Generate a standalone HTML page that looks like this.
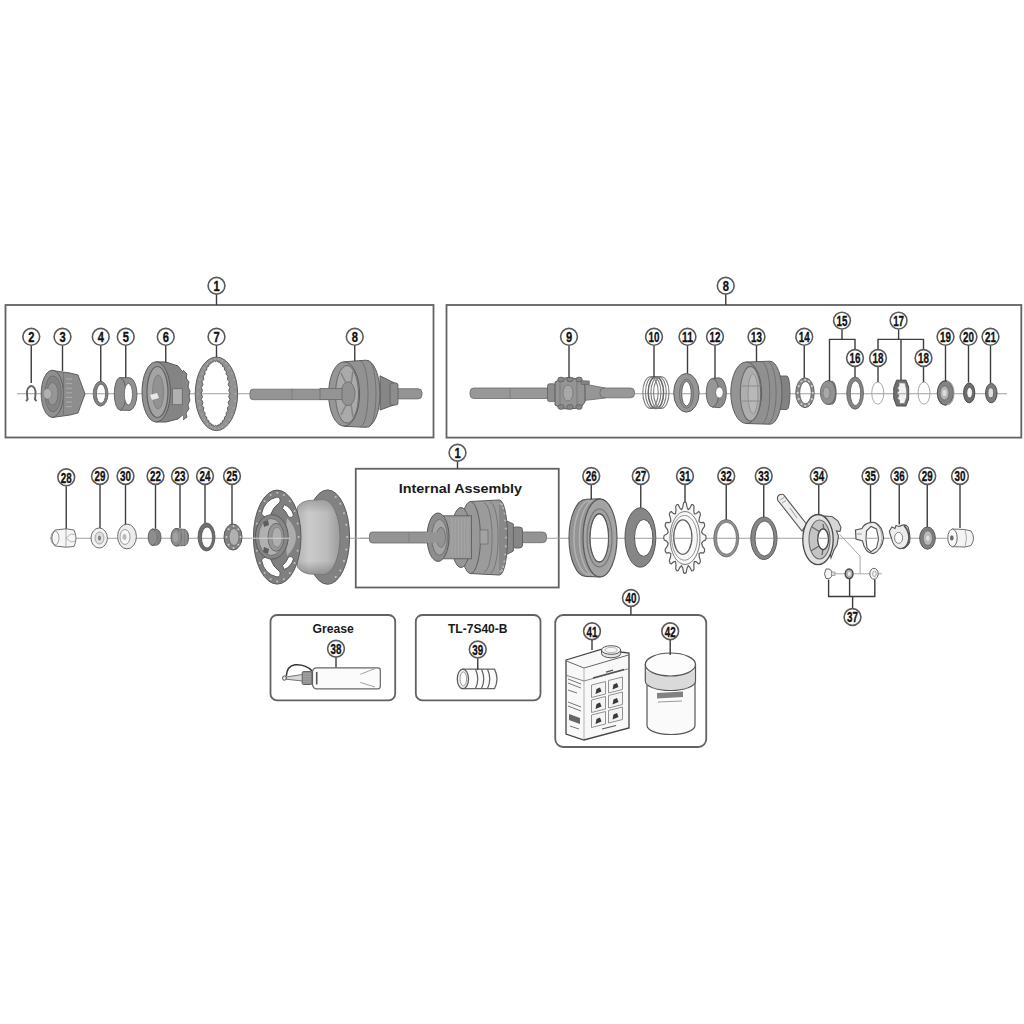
<!DOCTYPE html><html><head><meta charset="utf-8"><style>html,body{margin:0;padding:0;background:#fff;}svg{display:block;font-family:"Liberation Sans",sans-serif;}</style></head><body>
<svg width="1024" height="1024" viewBox="0 0 1024 1024">
<defs><linearGradient id="shell" x1="0" y1="0" x2="0" y2="1"><stop offset="0" stop-color="#8a8a8a"/><stop offset="0.3" stop-color="#bdbdbd"/><stop offset="0.6" stop-color="#c2c2c2"/><stop offset="1" stop-color="#7a7a7a"/></linearGradient><linearGradient id="shellh" x1="0" y1="0" x2="1" y2="0"><stop offset="0" stop-color="#b0b0b0"/><stop offset="0.3" stop-color="#cbcbcb"/><stop offset="0.7" stop-color="#bcbcbc"/><stop offset="1" stop-color="#9c9c9c"/></linearGradient><linearGradient id="shellv" x1="0" y1="0" x2="0" y2="1"><stop offset="0" stop-color="#808080" stop-opacity="0.55"/><stop offset="0.18" stop-color="#808080" stop-opacity="0"/><stop offset="0.82" stop-color="#707070" stop-opacity="0"/><stop offset="1" stop-color="#707070" stop-opacity="0.6"/></linearGradient></defs>
<rect width="1024" height="1024" fill="#fff"/>
<rect x="5.5" y="305" width="428" height="132.5" fill="none" stroke="#626262" stroke-width="1.8"/>
<rect x="446.5" y="305" width="574.8" height="132.6" fill="none" stroke="#626262" stroke-width="1.8"/>
<rect x="355.75" y="468.75" width="203" height="118.75" fill="none" stroke="#626262" stroke-width="1.8"/>
<rect x="270.5" y="615" width="124.7" height="85.3" rx="6.5" fill="none" stroke="#626262" stroke-width="1.8"/>
<rect x="415.8" y="615" width="124.7" height="85.3" rx="6.5" fill="none" stroke="#626262" stroke-width="1.8"/>
<rect x="555.25" y="615" width="151" height="132" rx="8" fill="none" stroke="#626262" stroke-width="1.8"/>
<line x1="17" y1="393.75" x2="250" y2="393.75" stroke="#a0a0a0" stroke-width="1"/>
<path d="M26,401 L27.5,399.5 L27,394 C26.5,389 29,386 31.3,386 C33.6,386 36,389 35.5,394 L35,399.5 L36.5,401" fill="none" stroke="#606060" stroke-width="1.9" />
<path d="M52,370.5 L70,373 L78,375 L85,394 L78,413 L70,415 L52,417.5 Z" fill="#8d8d8d" stroke="#5e5e5e" stroke-width="1" />
<ellipse cx="52.3" cy="393.75" rx="11.1" ry="23.5" fill="#909090" stroke="#5e5e5e" stroke-width="1" />
<ellipse cx="53" cy="393.75" rx="8.2" ry="18" fill="#848484" stroke="#6a6a6a" stroke-width="0.8" />
<ellipse cx="52.5" cy="393.75" rx="5.5" ry="11.5" fill="#969696" stroke="#6a6a6a" stroke-width="0.8" />
<ellipse cx="47.5" cy="393.75" rx="4.3" ry="5.2" fill="#b0b0b0" stroke="#777" stroke-width="0.6" />
<line x1="66" y1="379.0" x2="72" y2="379.0" stroke="#a8a8a8" stroke-width="1.2"/>
<line x1="66" y1="383.6" x2="72" y2="383.6" stroke="#a8a8a8" stroke-width="1.2"/>
<line x1="66" y1="388.2" x2="72" y2="388.2" stroke="#a8a8a8" stroke-width="1.2"/>
<line x1="66" y1="392.8" x2="72" y2="392.8" stroke="#a8a8a8" stroke-width="1.2"/>
<line x1="66" y1="397.4" x2="72" y2="397.4" stroke="#a8a8a8" stroke-width="1.2"/>
<line x1="66" y1="402.0" x2="72" y2="402.0" stroke="#a8a8a8" stroke-width="1.2"/>
<line x1="66" y1="406.6" x2="72" y2="406.6" stroke="#a8a8a8" stroke-width="1.2"/>
<line x1="63.5" y1="373" x2="63.5" y2="415" stroke="#6e6e6e" stroke-width="0.8"/>
<path d="M93.19999999999999,393.75 A7.4,12.4 0 1 0 108.0,393.75 A7.4,12.4 0 1 0 93.19999999999999,393.75 Z M96.4,393.75 A4.6,9.6 0 1 0 105.6,393.75 A4.6,9.6 0 1 0 96.4,393.75 Z " fill="#828282" stroke="#5e5e5e" stroke-width="0.8" fill-rule="evenodd"/>
<path d="M120,377.6 L130,377.8 A7.8,16.4 0 0 1 130,410.4 L120,410.2 Z" fill="#909090" stroke="#5e5e5e" stroke-width="0.9" />
<ellipse cx="120.1" cy="393.75" rx="5.8" ry="16.3" fill="#8e8e8e" stroke="#5e5e5e" stroke-width="0.9" />
<ellipse cx="128.4" cy="394.2" rx="4.1" ry="10.8" fill="#fff" stroke="#6a6a6a" stroke-width="0.9" />
<path d="M156,361.8 L166,362 L178,366 L186,376 L189,394 L186,412 L178,419 L166,422 L156,422 Z" fill="#848484" stroke="#5a5a5a" stroke-width="1" />
<ellipse cx="156.2" cy="391.9" rx="14.2" ry="30.1" fill="#929292" stroke="#5a5a5a" stroke-width="1" />
<ellipse cx="157.5" cy="392" rx="10.5" ry="25.5" fill="#a4a4a4" stroke="#606060" stroke-width="1.2" />
<ellipse cx="158" cy="392" rx="5.5" ry="17" fill="#929292" stroke="#777" stroke-width="0.7" />
<path d="M150,395 L157,393 L159,398 L152,400 Z" fill="#e8e8e8" stroke="none" stroke-width="1" />
<rect x="172.6" y="388.7" width="9.7" height="16" rx="0" fill="#b0b0b0" stroke="#666" stroke-width="0.8" />
<path d="M183,370 L187,374 L186,378 L189,382 L188,387 L190,391 L189,396 L190,400 L188,405 L189,409 L186,413 L187,417 L183,420" fill="#888888" stroke="#5a5a5a" stroke-width="0.9" />
<path d="M195.20000000000002,393.8 A21.2,36.8 0 1 0 237.6,393.8 A21.2,36.8 0 1 0 195.20000000000002,393.8 Z M230.20,393.50 L228.68,396.44 L229.95,399.56 L228.24,402.21 L229.21,405.42 L227.36,407.69 L228.01,410.87 L226.09,412.69 L226.39,415.73 L224.45,417.03 L224.40,419.83 L222.52,420.58 L222.11,423.04 L220.35,423.19 L219.60,425.24 L218.01,424.80 L216.95,426.36 L215.60,425.35 L214.25,426.36 L213.19,424.80 L211.60,425.24 L210.85,423.19 L209.09,423.04 L208.68,420.58 L206.80,419.83 L206.75,417.03 L204.81,415.73 L205.11,412.69 L203.19,410.87 L203.84,407.69 L201.99,405.42 L202.96,402.21 L201.25,399.56 L202.52,396.44 L201.00,393.50 L202.52,390.56 L201.25,387.44 L202.96,384.79 L201.99,381.58 L203.84,379.31 L203.19,376.13 L205.11,374.31 L204.81,371.27 L206.75,369.97 L206.80,367.17 L208.68,366.42 L209.09,363.96 L210.85,363.81 L211.60,361.76 L213.19,362.20 L214.25,360.64 L215.60,361.65 L216.95,360.64 L218.01,362.20 L219.60,361.76 L220.35,363.81 L222.11,363.96 L222.52,366.42 L224.40,367.17 L224.45,369.97 L226.39,371.27 L226.09,374.31 L228.01,376.13 L227.36,379.31 L229.21,381.58 L228.24,384.79 L229.95,387.44 L228.68,390.56 Z" fill="#929292" stroke="#5e5e5e" stroke-width="1" fill-rule="evenodd"/>
<circle cx="235.4" cy="393.8" r="0.9" fill="#aaaaaa"/>
<circle cx="235.0" cy="401.0" r="0.9" fill="#aaaaaa"/>
<circle cx="233.8" cy="408.0" r="0.9" fill="#aaaaaa"/>
<circle cx="231.8" cy="414.3" r="0.9" fill="#aaaaaa"/>
<circle cx="229.2" cy="419.7" r="0.9" fill="#aaaaaa"/>
<circle cx="226.1" cy="423.9" r="0.9" fill="#aaaaaa"/>
<circle cx="222.5" cy="426.9" r="0.9" fill="#aaaaaa"/>
<circle cx="218.7" cy="428.4" r="0.9" fill="#aaaaaa"/>
<circle cx="214.9" cy="428.4" r="0.9" fill="#aaaaaa"/>
<circle cx="211.1" cy="426.9" r="0.9" fill="#aaaaaa"/>
<circle cx="207.5" cy="423.9" r="0.9" fill="#aaaaaa"/>
<circle cx="204.4" cy="419.7" r="0.9" fill="#aaaaaa"/>
<circle cx="201.8" cy="414.3" r="0.9" fill="#aaaaaa"/>
<circle cx="199.8" cy="408.0" r="0.9" fill="#aaaaaa"/>
<circle cx="198.6" cy="401.0" r="0.9" fill="#aaaaaa"/>
<circle cx="198.2" cy="393.8" r="0.9" fill="#aaaaaa"/>
<circle cx="198.6" cy="386.6" r="0.9" fill="#aaaaaa"/>
<circle cx="199.8" cy="379.6" r="0.9" fill="#aaaaaa"/>
<circle cx="201.8" cy="373.3" r="0.9" fill="#aaaaaa"/>
<circle cx="204.4" cy="367.9" r="0.9" fill="#aaaaaa"/>
<circle cx="207.5" cy="363.7" r="0.9" fill="#aaaaaa"/>
<circle cx="211.1" cy="360.7" r="0.9" fill="#aaaaaa"/>
<circle cx="214.9" cy="359.2" r="0.9" fill="#aaaaaa"/>
<circle cx="218.7" cy="359.2" r="0.9" fill="#aaaaaa"/>
<circle cx="222.5" cy="360.7" r="0.9" fill="#aaaaaa"/>
<circle cx="226.1" cy="363.7" r="0.9" fill="#aaaaaa"/>
<circle cx="229.2" cy="367.9" r="0.9" fill="#aaaaaa"/>
<circle cx="231.8" cy="373.3" r="0.9" fill="#aaaaaa"/>
<circle cx="233.8" cy="379.6" r="0.9" fill="#aaaaaa"/>
<circle cx="235.0" cy="386.6" r="0.9" fill="#aaaaaa"/>
<rect x="250" y="389.2" width="88" height="10.5" rx="3" fill="#949494" stroke="#6a6a6a" stroke-width="0.8" />
<line x1="292" y1="388.5" x2="292" y2="400" stroke="#777" stroke-width="0.7"/>
<rect x="392" y="388.7" width="30" height="10.2" rx="4" fill="#949494" stroke="#6a6a6a" stroke-width="0.8" />
<path d="M380,375.8 L397.3,384.4 L397.3,403.7 L380,410 Z" fill="#868686" stroke="#5e5e5e" stroke-width="1" />
<rect x="390" y="383" width="8" height="22" rx="2" fill="#8d8d8d" stroke="#5e5e5e" stroke-width="0.8" />
<path d="M344,361.8 L366,360.2 A14,33.5 0 0 1 366,427.3 L344,426.3 Z" fill="#929292" stroke="#5e5e5e" stroke-width="1" />
<path d="M360,361 A8,33 0 0 1 360,427 M368,360.6 A8,33.2 0 0 1 368,427" fill="none" stroke="#6e6e6e" stroke-width="0.9" />
<ellipse cx="344.1" cy="394" rx="15.5" ry="32.2" fill="#969696" stroke="#5e5e5e" stroke-width="1" />
<ellipse cx="347" cy="394.3" rx="11.5" ry="28.8" fill="#aaaaaa" stroke="#6a6a6a" stroke-width="1" />
<path d="M341,373 L347,385 M353,371 L351,384 M341,415 L347,403 M353,417 L351,404" fill="none" stroke="#858585" stroke-width="1.6" />
<ellipse cx="348" cy="393.75" rx="7" ry="12" fill="#929292" stroke="#6a6a6a" stroke-width="0.8" />
<rect x="320" y="388.5" width="22" height="11" rx="0" fill="#949494" stroke="#6a6a6a" stroke-width="0.8" />
<line x1="634" y1="393.75" x2="1007" y2="393.75" stroke="#a0a0a0" stroke-width="1"/>
<rect x="470" y="388" width="80" height="10.5" rx="4" fill="#989898" stroke="#6a6a6a" stroke-width="0.8" />
<line x1="510" y1="388" x2="510" y2="398.5" stroke="#777" stroke-width="0.7"/>
<path d="M584,384 L605.5,388 L605.5,398 L584,400.5 Z" fill="#969696" stroke="#6a6a6a" stroke-width="0.8" />
<rect x="600" y="388" width="34.5" height="9.8" rx="4" fill="#989898" stroke="#6a6a6a" stroke-width="0.8" />
<rect x="547.5" y="383.8" width="8" height="17.8" rx="2" fill="#8d8d8d" stroke="#5e5e5e" stroke-width="0.8" />
<path d="M555,382 L562,378.5 L568,377.5 L575,378.5 L582,381 L585,386 L585,402 L582,406 L575,408.5 L568,409 L562,408.5 L555,405 Z" fill="#949494" stroke="#5a5a5a" stroke-width="1" />
<path d="M580.8,380.5 L589.4,381 L589.4,384.4 L581,384.4 Z" fill="#848484" stroke="#5e5e5e" stroke-width="0.6" />
<ellipse cx="561" cy="379.5" rx="3.2" ry="2.4" fill="#868686" stroke="#5a5a5a" stroke-width="0.7" />
<ellipse cx="561" cy="407" rx="3.2" ry="2.4" fill="#868686" stroke="#5a5a5a" stroke-width="0.7" />
<ellipse cx="570" cy="379.5" rx="3.2" ry="2.4" fill="#868686" stroke="#5a5a5a" stroke-width="0.7" />
<ellipse cx="570" cy="407" rx="3.2" ry="2.4" fill="#868686" stroke="#5a5a5a" stroke-width="0.7" />
<ellipse cx="579" cy="379.5" rx="3.2" ry="2.4" fill="#868686" stroke="#5a5a5a" stroke-width="0.7" />
<ellipse cx="579" cy="407" rx="3.2" ry="2.4" fill="#868686" stroke="#5a5a5a" stroke-width="0.7" />
<ellipse cx="568" cy="393" rx="5" ry="8" fill="#a8a8a8" stroke="#707070" stroke-width="0.7" />
<line x1="560" y1="382" x2="560" y2="405" stroke="#707070" stroke-width="0.7"/>
<line x1="577" y1="381" x2="577" y2="406" stroke="#707070" stroke-width="0.7"/>
<ellipse cx="650.5" cy="392.6" rx="7.7" ry="15.9" fill="none" stroke="#7e7e7e" stroke-width="1.1" />
<ellipse cx="653.2" cy="392.6" rx="7.7" ry="15.9" fill="none" stroke="#7e7e7e" stroke-width="1.1" />
<ellipse cx="655.9" cy="392.6" rx="7.7" ry="15.9" fill="none" stroke="#666" stroke-width="1.5" />
<ellipse cx="658.6" cy="392.6" rx="7.7" ry="15.9" fill="none" stroke="#7e7e7e" stroke-width="1.1" />
<ellipse cx="661.3" cy="392.6" rx="7.7" ry="15.9" fill="none" stroke="#7e7e7e" stroke-width="1.1" />
<line x1="650.5" y1="376.7" x2="661.3" y2="376.7" stroke="#777" stroke-width="1"/>
<line x1="650.5" y1="408.5" x2="661.3" y2="408.5" stroke="#777" stroke-width="1"/>
<path d="M673.6999999999999,392.8 A12.7,19.3 0 1 0 699.1,392.8 A12.7,19.3 0 1 0 673.6999999999999,392.8 Z M681.7,393.7 A4.8,12.3 0 1 0 691.3,393.7 A4.8,12.3 0 1 0 681.7,393.7 Z " fill="#969696" stroke="#5e5e5e" stroke-width="1" fill-rule="evenodd"/>
<ellipse cx="686.5" cy="393.7" rx="7" ry="14.5" fill="none" stroke="#707070" stroke-width="1" />
<path d="M712,378.5 L719,377.8 A7.4,14.95 0 0 1 719,407.7 L712,407 Z" fill="#8c8c8c" stroke="#5e5e5e" stroke-width="0.9" />
<ellipse cx="712.5" cy="392.75" rx="6.3" ry="14.3" fill="#969696" stroke="#5e5e5e" stroke-width="0.9" />
<ellipse cx="719.4" cy="392.5" rx="3.8" ry="5.5" fill="#fff" stroke="#6a6a6a" stroke-width="0.8" />
<path d="M776,376 L787,376 A3,16.75 0 0 1 787,409.5 L776,409.5 Z" fill="#828282" stroke="#5e5e5e" stroke-width="0.9" />
<path d="M746.2,362 L770,361.2 A12,31.5 0 0 1 770,424.2 L746.2,423.5 Z" fill="#909090" stroke="#5e5e5e" stroke-width="1" />
<path d="M762,361.5 A9,31.5 0 0 1 762,424 M768,361.3 A9,31.5 0 0 1 768,424" fill="none" stroke="#6e6e6e" stroke-width="0.9" />
<ellipse cx="746.2" cy="392.7" rx="15.4" ry="30.75" fill="#949494" stroke="#5e5e5e" stroke-width="1" />
<ellipse cx="750.5" cy="393.7" rx="10.2" ry="27.3" fill="#aeaeae" stroke="#6a6a6a" stroke-width="1.1" />
<ellipse cx="753" cy="393.7" rx="5" ry="20" fill="#b8b8b8" stroke="#8a8a8a" stroke-width="0.8" />
<line x1="742" y1="386" x2="760" y2="386" stroke="#909090" stroke-width="1.2"/>
<line x1="742" y1="401" x2="760" y2="401" stroke="#909090" stroke-width="1.2"/>
<path d="M795.75,392.75 A9.25,14.95 0 1 0 814.25,392.75 A9.25,14.95 0 1 0 795.75,392.75 Z M799.7,392.75 A5.8,11.2 0 1 0 811.3,392.75 A5.8,11.2 0 1 0 799.7,392.75 Z " fill="#8a8a8a" stroke="#5e5e5e" stroke-width="0.9" fill-rule="evenodd"/>
<circle cx="812.7" cy="392.8" r="1.1" fill="#d0d0d0"/>
<circle cx="811.7" cy="399.2" r="1.1" fill="#d0d0d0"/>
<circle cx="809.0" cy="404.0" r="1.1" fill="#d0d0d0"/>
<circle cx="805.2" cy="405.8" r="1.1" fill="#d0d0d0"/>
<circle cx="801.5" cy="404.0" r="1.1" fill="#d0d0d0"/>
<circle cx="798.7" cy="399.2" r="1.1" fill="#d0d0d0"/>
<circle cx="797.7" cy="392.8" r="1.1" fill="#d0d0d0"/>
<circle cx="798.7" cy="386.2" r="1.1" fill="#d0d0d0"/>
<circle cx="801.5" cy="381.5" r="1.1" fill="#d0d0d0"/>
<circle cx="805.2" cy="379.8" r="1.1" fill="#d0d0d0"/>
<circle cx="809.0" cy="381.5" r="1.1" fill="#d0d0d0"/>
<circle cx="811.7" cy="386.2" r="1.1" fill="#d0d0d0"/>
<path d="M828,380.75 L833,381.5 A4,11.5 0 0 1 833,404 L828,404.5 Z" fill="#828282" stroke="#5e5e5e" stroke-width="0.8" />
<ellipse cx="828" cy="392.6" rx="7.6" ry="11.9" fill="#929292" stroke="#5e5e5e" stroke-width="0.9" />
<ellipse cx="826.5" cy="393" rx="3.5" ry="6" fill="#a8a8a8" stroke="#6a6a6a" stroke-width="0.6" />
<path d="M846.7,393.1 A8.4,16.1 0 1 0 863.5,393.1 A8.4,16.1 0 1 0 846.7,393.1 Z M850.3,393.2 A5.2,12.3 0 1 0 860.7,393.2 A5.2,12.3 0 1 0 850.3,393.2 Z " fill="#848484" stroke="#5e5e5e" stroke-width="0.8" fill-rule="evenodd"/>
<ellipse cx="877.75" cy="393.1" rx="6" ry="11.1" fill="none" stroke="#a8a8a8" stroke-width="1" />
<ellipse cx="924" cy="393.1" rx="6" ry="11.1" fill="none" stroke="#a8a8a8" stroke-width="1" />
<path d="M893.7,388 L896.5,380.2 L906,380.1 L908.7,387 L908.7,399 L906,406.1 L896.5,406 L893.7,398.5 Z" fill="#6e6e6e" stroke="#4a4a4a" stroke-width="0.9" />
<path d="M899,382.8 L905,383 L906.6,390 L906.6,397 L904.5,403.5 L899.5,403.5 L899.5,400 L897.5,398.5 L899,395.5 L897,393 L899,390.5 L897.5,388 L899,386 Z" fill="#f2f2f2" stroke="#777" stroke-width="0.7" />
<line x1="897" y1="393.75" x2="906.5" y2="393.75" stroke="#a0a0a0" stroke-width="1"/>
<ellipse cx="945.4" cy="393" rx="8.1" ry="12.1" fill="#828282" stroke="#4e4e4e" stroke-width="1.1" />
<path d="M947,381.5 A7,11.5 0 0 1 947,404.5" fill="none" stroke="#a0a0a0" stroke-width="1.2" />
<ellipse cx="944.5" cy="393" rx="4.5" ry="7" fill="#b4b4b4" stroke="#666" stroke-width="0.7" />
<ellipse cx="944.5" cy="393" rx="2" ry="3.2" fill="#dcdcdc" stroke="none" stroke-width="1" />
<ellipse cx="969.2" cy="392.9" rx="5.6" ry="9.9" fill="#6e6e6e" stroke="#4a4a4a" stroke-width="1" />
<ellipse cx="969.6" cy="392.6" rx="2.8" ry="5.2" fill="#f4f4f4" stroke="#555" stroke-width="0.7" />
<ellipse cx="991.3" cy="393.1" rx="5.7" ry="9.7" fill="#7b7b7b" stroke="#4a4a4a" stroke-width="1" />
<ellipse cx="990.8" cy="392.8" rx="2.8" ry="5" fill="#e0e0e0" stroke="#555" stroke-width="0.7" />
<line x1="50" y1="538.25" x2="252" y2="538.25" stroke="#a0a0a0" stroke-width="1"/>
<line x1="350" y1="538.25" x2="369" y2="538.25" stroke="#a0a0a0" stroke-width="1"/>
<line x1="546" y1="538.25" x2="948" y2="538.25" stroke="#a0a0a0" stroke-width="1"/>
<path d="M55,530 L66,528.8 L74,530 Q78,538 74,546.5 L66,547.2 L55,546 Q48.5,538 55,530 Z" fill="#f6f6f6" stroke="#707070" stroke-width="1" />
<line x1="66" y1="529" x2="66" y2="547" stroke="#999" stroke-width="0.8"/>
<path d="M66,538 L71,534 L76,535 M66,538 L71,542 L76,541" fill="none" stroke="#999" stroke-width="0.7" />
<ellipse cx="55" cy="538" rx="4" ry="7" fill="none" stroke="#888" stroke-width="0.8" />
<ellipse cx="99.2" cy="538" rx="8.2" ry="10" fill="#f2f2f2" stroke="#707070" stroke-width="1" />
<ellipse cx="99.5" cy="538" rx="4.5" ry="6" fill="#e0e0e0" stroke="#888" stroke-width="0.7" />
<ellipse cx="99.5" cy="538" rx="1.5" ry="2.5" fill="#7f7f7f" stroke="none" stroke-width="1" />
<ellipse cx="127" cy="536.5" rx="9.4" ry="12.4" fill="#ececec" stroke="#6a6a6a" stroke-width="1" />
<ellipse cx="125" cy="537" rx="5" ry="7.5" fill="#f8f8f8" stroke="#888" stroke-width="0.8" />
<ellipse cx="124.5" cy="537" rx="2" ry="3" fill="#bbb" stroke="none" stroke-width="1" />
<path d="M152,529 L157,529.5 A4.5,7.8 0 0 1 157,545 L152,545.5 Z" fill="#828282" stroke="#5a5a5a" stroke-width="0.9" />
<ellipse cx="152.5" cy="537.25" rx="4.3" ry="8.2" fill="#8d8d8d" stroke="#5a5a5a" stroke-width="0.9" />
<line x1="156" y1="530" x2="156" y2="545" stroke="#9a9a9a" stroke-width="0.9"/>
<path d="M176,528.5 L185,529.5 A4.5,8.2 0 0 1 185,545.5 L176,546 Z" fill="#848484" stroke="#5a5a5a" stroke-width="0.9" />
<ellipse cx="176" cy="537.25" rx="5" ry="8.8" fill="#8d8d8d" stroke="#5a5a5a" stroke-width="0.9" />
<line x1="180" y1="529" x2="180" y2="546" stroke="#9e9e9e" stroke-width="0.9"/>
<line x1="183" y1="529.3" x2="183" y2="545.7" stroke="#9e9e9e" stroke-width="0.9"/>
<line x1="186" y1="530" x2="186" y2="545" stroke="#9e9e9e" stroke-width="0.9"/>
<ellipse cx="175.5" cy="537.25" rx="2.5" ry="5" fill="#a2a2a2" stroke="none" stroke-width="1" />
<path d="M198.0,537 A8.5,14 0 1 0 215.0,537 A8.5,14 0 1 0 198.0,537 Z M201.5,537.5 A5.5,10.5 0 1 0 212.5,537.5 A5.5,10.5 0 1 0 201.5,537.5 Z " fill="#6e6e6e" stroke="#555" stroke-width="0.8" fill-rule="evenodd"/>
<ellipse cx="233" cy="537" rx="9" ry="13" fill="#828282" stroke="#555" stroke-width="1" />
<ellipse cx="234" cy="537" rx="5" ry="8.5" fill="#b0b0b0" stroke="#666" stroke-width="0.7" />
<circle cx="240.5" cy="537.0" r="1" fill="#ccc"/>
<circle cx="238.4" cy="544.8" r="1" fill="#ccc"/>
<circle cx="233.5" cy="548.0" r="1" fill="#ccc"/>
<circle cx="228.6" cy="544.8" r="1" fill="#ccc"/>
<circle cx="226.5" cy="537.0" r="1" fill="#ccc"/>
<circle cx="228.6" cy="529.2" r="1" fill="#ccc"/>
<circle cx="233.5" cy="526.0" r="1" fill="#ccc"/>
<circle cx="238.4" cy="529.2" r="1" fill="#ccc"/>
<ellipse cx="327.6" cy="537.1" rx="22" ry="47.2" fill="#828282" stroke="#5a5a5a" stroke-width="1" />
<circle cx="347.1" cy="537.1" r="1" fill="#c4c4c4"/>
<circle cx="346.3" cy="549.5" r="1" fill="#c4c4c4"/>
<circle cx="344.0" cy="560.9" r="1" fill="#c4c4c4"/>
<circle cx="340.4" cy="570.4" r="1" fill="#c4c4c4"/>
<circle cx="335.7" cy="577.1" r="1" fill="#c4c4c4"/>
<circle cx="335.7" cy="497.1" r="1" fill="#c4c4c4"/>
<circle cx="340.4" cy="503.8" r="1" fill="#c4c4c4"/>
<circle cx="344.0" cy="513.3" r="1" fill="#c4c4c4"/>
<circle cx="346.3" cy="524.7" r="1" fill="#c4c4c4"/>
<path d="M297.5,507 Q301,501.5 309,500.5 L323,499.5 A17,37.6 0 0 1 323,574.7 L309,574 Q301,572.5 297.5,567 Q294,537 297.5,507 Z" fill="url(#shellh)" stroke="#6a6a6a" stroke-width="0.7"/>
<path d="M297.5,507 Q301,501.5 309,500.5 L323,499.5 A17,37.6 0 0 1 323,574.7 L309,574 Q301,572.5 297.5,567 Q294,537 297.5,507 Z" fill="url(#shellv)"/>
<path d="M253.39999999999998,537.1 A23.8,47 0 1 0 301.0,537.1 A23.8,47 0 1 0 253.39999999999998,537.1 Z M261.5,514 Q264,500 277,497 Q281,497.5 280,502 Q273,507 270,516 Q265,519 261.5,514 Z M284,504.5 Q291,507 293.5,515 Q292,519 288.5,517 Q286,511 282.5,508.5 Z M261.5,560 Q264,574 277,577 Q281,576.5 280,572 Q273,567 270,558 Q265,555 261.5,560 Z M284,569.5 Q291,567 293.5,559 Q292,555 288.5,557 Q286,563 282.5,565.5 Z " fill="#7f7f7f" stroke="#5a5a5a" stroke-width="1" fill-rule="evenodd"/>
<circle cx="298.7" cy="537.1" r="1" fill="#c0c0c0"/>
<circle cx="297.6" cy="550.8" r="1" fill="#c0c0c0"/>
<circle cx="294.6" cy="563.1" r="1" fill="#c0c0c0"/>
<circle cx="289.8" cy="572.9" r="1" fill="#c0c0c0"/>
<circle cx="283.8" cy="579.2" r="1" fill="#c0c0c0"/>
<circle cx="277.2" cy="581.4" r="1" fill="#c0c0c0"/>
<circle cx="270.6" cy="579.2" r="1" fill="#c0c0c0"/>
<circle cx="264.6" cy="572.9" r="1" fill="#c0c0c0"/>
<circle cx="259.8" cy="563.1" r="1" fill="#c0c0c0"/>
<circle cx="256.8" cy="550.8" r="1" fill="#c0c0c0"/>
<circle cx="255.7" cy="537.1" r="1" fill="#c0c0c0"/>
<circle cx="256.8" cy="523.4" r="1" fill="#c0c0c0"/>
<circle cx="259.8" cy="511.1" r="1" fill="#c0c0c0"/>
<circle cx="264.6" cy="501.3" r="1" fill="#c0c0c0"/>
<circle cx="270.6" cy="495.0" r="1" fill="#c0c0c0"/>
<circle cx="277.2" cy="492.8" r="1" fill="#c0c0c0"/>
<circle cx="283.8" cy="495.0" r="1" fill="#c0c0c0"/>
<circle cx="289.8" cy="501.3" r="1" fill="#c0c0c0"/>
<circle cx="294.6" cy="511.1" r="1" fill="#c0c0c0"/>
<circle cx="297.6" cy="523.4" r="1" fill="#c0c0c0"/>
<path d="M287,518 Q296,527 296,537 Q296,547 287,556 L285,537 Z" fill="#acacac" stroke="none" stroke-width="1" />
<ellipse cx="271.8" cy="536.9" rx="16.4" ry="22.2" fill="#868686" stroke="#5a5a5a" stroke-width="1" />
<ellipse cx="271" cy="537" rx="12.5" ry="18.5" fill="#b0b0b0" stroke="#6a6a6a" stroke-width="0.8" />
<ellipse cx="276" cy="537.3" rx="8" ry="14" fill="#969696" stroke="#666" stroke-width="0.9" />
<ellipse cx="277" cy="537.3" rx="5" ry="10" fill="#aeaeae" stroke="#777" stroke-width="0.6" />
<path d="M263,522 L268,520 L269,525 L264,527 Z M263,552 L268,554 L269,549 L264,547 Z" fill="#5e5e5e" stroke="none" stroke-width="1" />
<line x1="252" y1="538.25" x2="290" y2="538.25" stroke="#d0d0d0" stroke-width="1"/>
<rect x="369.5" y="532" width="66" height="11" rx="3" fill="#949494" stroke="#6a6a6a" stroke-width="0.8" />
<line x1="409" y1="532.5" x2="409" y2="542.5" stroke="#777" stroke-width="0.7"/>
<rect x="518" y="532" width="28.5" height="10.7" rx="4" fill="#949494" stroke="#6a6a6a" stroke-width="0.8" />
<rect x="512" y="527" width="10.5" height="21" rx="3" fill="#868686" stroke="#5e5e5e" stroke-width="0.9" />
<path d="M505,520 L513.4,524 L513.4,551 L505,555.5 Z" fill="#888888" stroke="#5e5e5e" stroke-width="0.9" />
<ellipse cx="499.5" cy="537.5" rx="8" ry="37.5" fill="#888888" stroke="#5a5a5a" stroke-width="1" />
<circle cx="506.0" cy="537.5" r="1.1" fill="#b8b8b8"/>
<circle cx="505.8" cy="546.3" r="1.1" fill="#b8b8b8"/>
<circle cx="505.3" cy="554.5" r="1.1" fill="#b8b8b8"/>
<circle cx="504.4" cy="561.5" r="1.1" fill="#b8b8b8"/>
<circle cx="503.2" cy="566.9" r="1.1" fill="#b8b8b8"/>
<circle cx="501.9" cy="570.3" r="1.1" fill="#b8b8b8"/>
<circle cx="500.5" cy="571.5" r="1.1" fill="#b8b8b8"/>
<circle cx="500.5" cy="503.5" r="1.1" fill="#b8b8b8"/>
<circle cx="501.9" cy="504.7" r="1.1" fill="#b8b8b8"/>
<circle cx="503.2" cy="508.1" r="1.1" fill="#b8b8b8"/>
<circle cx="504.4" cy="513.5" r="1.1" fill="#b8b8b8"/>
<circle cx="505.3" cy="520.5" r="1.1" fill="#b8b8b8"/>
<circle cx="505.8" cy="528.7" r="1.1" fill="#b8b8b8"/>
<path d="M470,501.5 L499,500 L499,575 L470,573.5 Z" fill="#9b9b9b" stroke="none" stroke-width="1" />
<line x1="470" y1="501.5" x2="499" y2="500" stroke="#5a5a5a" stroke-width="1"/>
<line x1="470" y1="573.5" x2="499" y2="575" stroke="#5a5a5a" stroke-width="1"/>
<ellipse cx="470.5" cy="537.5" rx="10" ry="36" fill="#989898" stroke="#5e5e5e" stroke-width="1" />
<path d="M484,503 A8,34 0 0 1 484,572 M490,502 A8,35 0 0 1 490,573" fill="none" stroke="#737373" stroke-width="0.9" />
<ellipse cx="461" cy="537.5" rx="10" ry="30" fill="#969696" stroke="#5e5e5e" stroke-width="1" />
<rect x="480" y="530" width="8" height="14" rx="0" fill="#a2a2a2" stroke="#6a6a6a" stroke-width="0.7" />
<rect x="438" y="515.8" width="33.5" height="43" rx="0" fill="#9b9b9b" stroke="#5e5e5e" stroke-width="0.9" />
<line x1="452.0" y1="518" x2="452.0" y2="557" stroke="#a6a6a6" stroke-width="1"/>
<line x1="455.2" y1="518" x2="455.2" y2="557" stroke="#a6a6a6" stroke-width="1"/>
<line x1="458.4" y1="518" x2="458.4" y2="557" stroke="#a6a6a6" stroke-width="1"/>
<line x1="461.6" y1="518" x2="461.6" y2="557" stroke="#a6a6a6" stroke-width="1"/>
<line x1="464.8" y1="518" x2="464.8" y2="557" stroke="#a6a6a6" stroke-width="1"/>
<line x1="468.0" y1="518" x2="468.0" y2="557" stroke="#a6a6a6" stroke-width="1"/>
<ellipse cx="438" cy="537.2" rx="11" ry="24.2" fill="#8d8d8d" stroke="#5a5a5a" stroke-width="1" />
<ellipse cx="439.5" cy="537.3" rx="7.8" ry="18" fill="#a4a4a4" stroke="#666" stroke-width="0.8" />
<ellipse cx="441" cy="537.3" rx="4.5" ry="10" fill="#949494" stroke="#666" stroke-width="0.7" />
<rect x="425" y="532.3" width="16" height="10.4" rx="0" fill="#949494" stroke="none" stroke-width="1" />
<line x1="360" y1="538.25" x2="369" y2="538.25" stroke="#a0a0a0" stroke-width="1"/>
<path d="M600,498.85 L586,499.3 A17,38.6 0 0 0 586,576.5 L600,576.85 Z" fill="#949494" stroke="#555" stroke-width="1.1" />
<path d="M590,500.5 A16,37 0 0 0 590,575 M595,500 A15.5,37.5 0 0 0 595,575.5" fill="none" stroke="#b0b0b0" stroke-width="1.6" />
<path d="M583,537.85 A17,39 0 1 0 617,537.85 A17,39 0 1 0 583,537.85 Z M590.0999999999999,537.9 A9.2,24 0 1 0 608.5,537.9 A9.2,24 0 1 0 590.0999999999999,537.9 Z " fill="#a2a2a2" stroke="#555" stroke-width="1.1" fill-rule="evenodd"/>
<ellipse cx="599.5" cy="537.9" rx="12.5" ry="29" fill="none" stroke="#7a7a7a" stroke-width="1.2" />
<ellipse cx="600" cy="537.85" rx="15" ry="36" fill="none" stroke="#aaaaaa" stroke-width="0.8" />
<ellipse cx="599.3" cy="537.9" rx="9.2" ry="24" fill="#fff" stroke="#555" stroke-width="1.1" />
<line x1="590" y1="538.25" x2="608.5" y2="538.25" stroke="#a0a0a0" stroke-width="1"/>
<path d="M625.0,537.5 A15.4,29.7 0 1 0 655.8,537.5 A15.4,29.7 0 1 0 625.0,537.5 Z M634.5,537.9 A9.2,18.5 0 1 0 652.9000000000001,537.9 A9.2,18.5 0 1 0 634.5,537.9 Z " fill="#868686" stroke="#555" stroke-width="1" fill-rule="evenodd"/>
<path d="M681.59,509.69 L682.76,507.21 L683.60,502.78 L684.90,502.00 L686.20,502.78 L687.04,507.21 L688.21,509.69 L689.85,508.15 L691.63,504.60 L693.01,504.72 L694.04,506.28 L693.81,510.91 L694.32,513.95 L696.19,513.59 L698.64,511.46 L699.89,512.46 L700.48,514.56 L699.22,518.69 L699.00,521.83 L700.81,522.70 L703.56,522.31 L704.49,524.04 L704.56,526.37 L702.45,529.37 L701.53,532.13 L703.01,534.09 L705.64,535.50 L706.10,537.70 L705.64,539.90 L703.01,541.31 L701.53,543.27 L702.45,546.03 L704.56,549.03 L704.49,551.36 L703.56,553.09 L700.81,552.70 L699.00,553.57 L699.22,556.71 L700.48,560.84 L699.89,562.94 L698.64,563.94 L696.19,561.81 L694.32,561.45 L693.81,564.49 L694.04,569.12 L693.01,570.68 L691.63,570.80 L689.85,567.25 L688.21,565.71 L687.04,568.19 L686.20,572.62 L684.90,573.40 L683.60,572.62 L682.76,568.19 L681.59,565.71 L679.95,567.25 L678.17,570.80 L676.79,570.68 L675.76,569.12 L675.99,564.49 L675.48,561.45 L673.61,561.81 L671.16,563.94 L669.91,562.94 L669.32,560.84 L670.58,556.71 L670.80,553.57 L668.99,552.70 L666.24,553.09 L665.31,551.36 L665.24,549.03 L667.35,546.03 L668.27,543.27 L666.79,541.31 L664.16,539.90 L663.70,537.70 L664.16,535.50 L666.79,534.09 L668.27,532.13 L667.35,529.37 L665.24,526.37 L665.31,524.04 L666.24,522.31 L668.99,522.70 L670.80,521.83 L670.58,518.69 L669.32,514.56 L669.91,512.46 L671.16,511.46 L673.61,513.59 L675.48,513.95 L675.99,510.91 L675.76,506.28 L676.79,504.72 L678.17,504.60 L679.95,508.15 Z" fill="#f8f8f8" stroke="#5e5e5e" stroke-width="1.2" stroke-linejoin="round"/>
<ellipse cx="685" cy="538" rx="15" ry="26.5" fill="none" stroke="#7a7a7a" stroke-width="1" />
<ellipse cx="684.5" cy="537.8" rx="12.9" ry="22.4" fill="none" stroke="#8a8a8a" stroke-width="0.9" />
<ellipse cx="682.8" cy="537.1" rx="9.1" ry="17.2" fill="#fff" stroke="#5e5e5e" stroke-width="1.3" />
<line x1="673.7" y1="538.25" x2="692" y2="538.25" stroke="#a0a0a0" stroke-width="1"/>
<path d="M713.75,538.25 A12.5,18.75 0 1 0 738.75,538.25 A12.5,18.75 0 1 0 713.75,538.25 Z M716.5,538.25 A10,16 0 1 0 736.5,538.25 A10,16 0 1 0 716.5,538.25 Z " fill="#909090" stroke="#666" stroke-width="0.8" fill-rule="evenodd"/>
<path d="M750.8,538.25 A13.1,21.25 0 1 0 777.0,538.25 A13.1,21.25 0 1 0 750.8,538.25 Z M755.0,538.5 A9.5,17.5 0 1 0 774.0,538.5 A9.5,17.5 0 1 0 755.0,538.5 Z " fill="#868686" stroke="#555" stroke-width="0.9" fill-rule="evenodd"/>
<path d="M777.75,500.34 Q776.5,496 780,494.5 Q783.5,493.5 784.25,495.66 L806.5,524 L802,531 Z" fill="#eeeeee" stroke="#555" stroke-width="1.1" />
<path d="M780,500 L784,497.5 M782,503 L786,500.5 M790,508 L797,518" fill="none" stroke="#8a8a8a" stroke-width="0.8" />
<path d="M824,516 L832,516.5 L838,521 L841,527.5 L840,531.5 L836.5,531 L838.5,536 L837,545 L834,550 L831,558 Z" fill="#d6d6d6" stroke="#555" stroke-width="1.1" />
<ellipse cx="818" cy="539.6" rx="15.2" ry="25.1" fill="#e2e2e2" stroke="#4a4a4a" stroke-width="1.3" />
<ellipse cx="819.5" cy="539.5" rx="10.5" ry="19.5" fill="#c4c4c4" stroke="#6a6a6a" stroke-width="1.1" />
<path d="M812,527 L820,532 M811,551 L819,546 M823,524 L824,530 M822,555 L823,549" fill="none" stroke="#6a6a6a" stroke-width="1.4" />
<ellipse cx="823.1" cy="539.2" rx="5.4" ry="10.4" fill="#fff" stroke="#444" stroke-width="1.3" />
<line x1="817.5" y1="538.25" x2="828.5" y2="538.25" stroke="#a0a0a0" stroke-width="1"/>
<line x1="839.6" y1="534.2" x2="860.1" y2="556.2" stroke="#a8a8a8" stroke-width="1"/>
<line x1="860.1" y1="556.2" x2="860.1" y2="573.8" stroke="#a8a8a8" stroke-width="1"/>
<line x1="833" y1="573.8" x2="882" y2="573.8" stroke="#a8a8a8" stroke-width="1"/>
<path d="M826,569 Q832,568 832,573.8 Q832,579.5 826,578.5 Q823,573.8 826,569 Z" fill="#f4f4f4" stroke="#666" stroke-width="1" />
<rect x="831.5" y="572" width="3.5" height="3.6" rx="0" fill="#ddd" stroke="#777" stroke-width="0.6" />
<ellipse cx="849.1" cy="573.8" rx="3.9" ry="4.8" fill="#b0b0b0" stroke="#444" stroke-width="1.4" />
<ellipse cx="849.3" cy="573.8" rx="1.5" ry="2.2" fill="#e8e8e8" stroke="none" stroke-width="1" />
<ellipse cx="874" cy="573.8" rx="4.2" ry="5.5" fill="#f4f4f4" stroke="#666" stroke-width="1" />
<ellipse cx="874.5" cy="573.8" rx="1.8" ry="2.8" fill="none" stroke="#777" stroke-width="0.6" />
<path d="M855.5,530 L862,528.5 L863.5,526 Q868,521.8 875,522.6 Q882.5,526 883.6,538 Q882,550 873,553.7 Q865,553 862.5,541 L856,539 Z" fill="#eeeeee" stroke="#555" stroke-width="1.2" />
<path d="M866.5,531 L871,526.4 L876.5,529 L878.6,539 L876.5,548 L871,551.8 L867,548 L866,539 Z" fill="#fff" stroke="#555" stroke-width="1.1" />
<path d="M876,524 Q881.5,528 882,538 Q881,548 876,552" fill="none" stroke="#999" stroke-width="0.8" />
<line x1="857" y1="534" x2="862" y2="534" stroke="#888" stroke-width="0.8"/>
<line x1="866.5" y1="538.25" x2="878.5" y2="538.25" stroke="#a0a0a0" stroke-width="1"/>
<path d="M889.4,531 L892,527 L895,528.5 L896,525.5 L899,526.5 Q905,523 908,527 Q910.5,535 909.7,542 Q907,548.6 900,548.6 Q893,547 891.5,538 L890,534 Z" fill="#ececec" stroke="#555" stroke-width="1.1" />
<path d="M904,525.5 Q909,531 909,538 Q908.5,546 903,548.5" fill="none" stroke="#555" stroke-width="1.8" />
<ellipse cx="898.6" cy="537.9" rx="4" ry="5.5" fill="#fff" stroke="#777" stroke-width="0.9" />
<ellipse cx="927.5" cy="538.1" rx="7.8" ry="11.1" fill="#7f7f7f" stroke="#555" stroke-width="1" />
<ellipse cx="927.8" cy="538.1" rx="4.6" ry="7.3" fill="#b8b8b8" stroke="#666" stroke-width="0.7" />
<ellipse cx="927.8" cy="538.1" rx="1.8" ry="2.6" fill="#e0e0e0" stroke="none" stroke-width="1" />
<path d="M952,529 L965,529.5 L971,531 Q976,538 971,545.5 L965,547 L952,546.7 Z" fill="#f4f4f4" stroke="#707070" stroke-width="1" />
<path d="M965,529.5 Q968,538 965,547" fill="none" stroke="#999" stroke-width="0.8" />
<ellipse cx="952.5" cy="537.9" rx="4.7" ry="8.8" fill="#f8f8f8" stroke="#6a6a6a" stroke-width="1" />
<ellipse cx="951.8" cy="537.9" rx="1.8" ry="2.6" fill="#666" stroke="none" stroke-width="1" />
<path d="M316,667.9 L378,667.9 Q380.3,667.9 380.3,670.5 L380.3,686.3 Q380.3,688.8 378,688.8 L316,688.8 Q312.5,688 312.5,684 L312.5,672.5 Q312.5,668.5 316,667.9 Z" fill="#fbfbfb" stroke="#666" stroke-width="1.2" />
<path d="M360.2,674.3 L375,668.6 M360.2,682.4 L375,687" fill="none" stroke="#999" stroke-width="0.9" />
<line x1="316.7" y1="672" x2="316.7" y2="684.5" stroke="#555" stroke-width="1.6"/>
<rect x="302.2" y="671.6" width="9.8" height="12.9" rx="1.2" fill="#949494" stroke="#555" stroke-width="0.9" />
<line x1="303" y1="674" x2="311" y2="674" stroke="#a8a8a8" stroke-width="0.6"/>
<line x1="303" y1="676.5" x2="311" y2="676.5" stroke="#a8a8a8" stroke-width="0.6"/>
<line x1="303" y1="679" x2="311" y2="679" stroke="#a8a8a8" stroke-width="0.6"/>
<line x1="303" y1="681.5" x2="311" y2="681.5" stroke="#a8a8a8" stroke-width="0.6"/>
<path d="M286,677 L302.2,674.5 L302.2,681 L286,679.2 Z" fill="#d8d8d8" stroke="#666" stroke-width="0.9" />
<ellipse cx="284.4" cy="678.1" rx="1.9" ry="2.2" fill="#e8e8e8" stroke="#555" stroke-width="1" />
<path d="M286.3,676 Q287,666 295,664.8 Q306,664.2 312,671" fill="none" stroke="#333" stroke-width="1.5" />
<path d="M462.9,669.1 L494.5,669.1 Q499.5,678.9 494.5,688.7 L462.9,688.7 Z" fill="#fbfbfb" stroke="#666" stroke-width="1.3" />
<ellipse cx="462.9" cy="678.9" rx="5.6" ry="9.8" fill="#f4f4f4" stroke="#5e5e5e" stroke-width="1.3" />
<ellipse cx="463.3" cy="678.9" rx="3.3" ry="7" fill="#fdfdfd" stroke="#999" stroke-width="1" />
<path d="M475.5,669.3 Q480.0,678.9 475.5,688.5" fill="none" stroke="#5e5e5e" stroke-width="1.2" />
<path d="M481.5,669.3 Q486.0,678.9 481.5,688.5" fill="none" stroke="#5e5e5e" stroke-width="1.2" />
<path d="M487.5,669.3 Q492.0,678.9 487.5,688.5" fill="none" stroke="#5e5e5e" stroke-width="1.2" />
<path d="M566,660 L601,649.5 L629,653 L629,728 L584,740 L566,734 Z" fill="#f8f8f8" stroke="#444" stroke-width="1.3" />
<path d="M566.5,661 L584,668 L628.5,655" fill="none" stroke="#666" stroke-width="1" />
<path d="M584,668 L584,739" fill="none" stroke="#aaa" stroke-width="0.9" />
<path d="M584,681 L629,668.6 M566,675.2 L584,681" fill="none" stroke="#777" stroke-width="0.9" />
<path d="M601.5,650 L601.5,653.5 A9.6,4.3 0 0 0 620.7,653.5 L620.7,650" fill="#e4e4e4" stroke="#555" stroke-width="1" />
<ellipse cx="611.1" cy="650" rx="9.6" ry="4.3" fill="#f6f6f6" stroke="#555" stroke-width="1" />
<ellipse cx="611.1" cy="650" rx="6.2" ry="2.6" fill="none" stroke="#aaa" stroke-width="0.8" />
<path d="M591.5,685 L605.5,681.5 L605.5,694 L591.5,697.5 Z" fill="#f4f4f4" stroke="#777" stroke-width="0.8" />
<path d="M595.5,694 L596.5,689 L600.0,687.5 L601.5,691.5 Z" fill="#3a3a3a" stroke="none" stroke-width="1" />
<path d="M608.5,680.5 L622.5,677.0 L622.5,689.5 L608.5,693.0 Z" fill="#f4f4f4" stroke="#777" stroke-width="0.8" />
<path d="M612.5,689.5 L613.5,684.5 L617.0,683.0 L618.5,687.0 Z" fill="#3a3a3a" stroke="none" stroke-width="1" />
<path d="M591.5,700 L605.5,696.5 L605.5,709 L591.5,712.5 Z" fill="#f4f4f4" stroke="#777" stroke-width="0.8" />
<path d="M595.5,709 L596.5,704 L600.0,702.5 L601.5,706.5 Z" fill="#3a3a3a" stroke="none" stroke-width="1" />
<path d="M608.5,695.5 L622.5,692.0 L622.5,704.5 L608.5,708.0 Z" fill="#f4f4f4" stroke="#777" stroke-width="0.8" />
<path d="M612.5,704.5 L613.5,699.5 L617.0,698.0 L618.5,702.0 Z" fill="#3a3a3a" stroke="none" stroke-width="1" />
<path d="M591.5,715 L605.5,711.5 L605.5,724 L591.5,727.5 Z" fill="#f4f4f4" stroke="#777" stroke-width="0.8" />
<path d="M595.5,724 L596.5,719 L600.0,717.5 L601.5,721.5 Z" fill="#3a3a3a" stroke="none" stroke-width="1" />
<path d="M608.5,710.5 L622.5,707.0 L622.5,719.5 L608.5,723.0 Z" fill="#f4f4f4" stroke="#777" stroke-width="0.8" />
<path d="M612.5,719.5 L613.5,714.5 L617.0,713.0 L618.5,717.0 Z" fill="#3a3a3a" stroke="none" stroke-width="1" />
<path d="M568,679 L581,684 M568,683 L581,688 M568,690 L577,693 M568,702 L581,707 M568,706 L581,711" fill="none" stroke="#777" stroke-width="1" />
<path d="M569,714 L580,718 L580,724 L569,720 Z" fill="#666" stroke="none" stroke-width="1" />
<path d="M570,726 L579,729" fill="none" stroke="#777" stroke-width="1" />
<path d="M606,672 L613,670 M593,678 L624,669.5" fill="none" stroke="#555" stroke-width="1.3" />
<path d="M602,729 L616,725.5" fill="none" stroke="#555" stroke-width="1.2" />
<path d="M647,683 L647,725.5 A24,9 0 0 0 695,725.5 L695,683 Z" fill="#fafafa" stroke="#555" stroke-width="1.2" />
<path d="M645.3,664.5 L645.3,681 A25.1,9.5 0 0 0 695.5,681 L695.5,664.5 Z" fill="#e6e6e6" stroke="#555" stroke-width="1.2" />
<line x1="647" y1="672" x2="647" y2="685" stroke="#c0c0c0" stroke-width="0.6"/>
<line x1="649" y1="672" x2="649" y2="685" stroke="#c0c0c0" stroke-width="0.6"/>
<line x1="651" y1="672" x2="651" y2="685" stroke="#c0c0c0" stroke-width="0.6"/>
<line x1="653" y1="672" x2="653" y2="689" stroke="#c0c0c0" stroke-width="0.6"/>
<line x1="655" y1="672" x2="655" y2="689" stroke="#c0c0c0" stroke-width="0.6"/>
<line x1="657" y1="672" x2="657" y2="689" stroke="#c0c0c0" stroke-width="0.6"/>
<line x1="659" y1="672" x2="659" y2="689" stroke="#c0c0c0" stroke-width="0.6"/>
<line x1="661" y1="672" x2="661" y2="689" stroke="#c0c0c0" stroke-width="0.6"/>
<line x1="663" y1="672" x2="663" y2="689" stroke="#c0c0c0" stroke-width="0.6"/>
<line x1="665" y1="672" x2="665" y2="689" stroke="#c0c0c0" stroke-width="0.6"/>
<line x1="667" y1="672" x2="667" y2="689" stroke="#c0c0c0" stroke-width="0.6"/>
<line x1="669" y1="672" x2="669" y2="689" stroke="#c0c0c0" stroke-width="0.6"/>
<line x1="671" y1="672" x2="671" y2="689" stroke="#c0c0c0" stroke-width="0.6"/>
<line x1="673" y1="672" x2="673" y2="689" stroke="#c0c0c0" stroke-width="0.6"/>
<line x1="675" y1="672" x2="675" y2="689" stroke="#c0c0c0" stroke-width="0.6"/>
<line x1="677" y1="672" x2="677" y2="689" stroke="#c0c0c0" stroke-width="0.6"/>
<line x1="679" y1="672" x2="679" y2="689" stroke="#c0c0c0" stroke-width="0.6"/>
<line x1="681" y1="672" x2="681" y2="689" stroke="#c0c0c0" stroke-width="0.6"/>
<line x1="683" y1="672" x2="683" y2="689" stroke="#c0c0c0" stroke-width="0.6"/>
<line x1="685" y1="672" x2="685" y2="689" stroke="#c0c0c0" stroke-width="0.6"/>
<line x1="687" y1="672" x2="687" y2="689" stroke="#c0c0c0" stroke-width="0.6"/>
<line x1="689" y1="672" x2="689" y2="685" stroke="#c0c0c0" stroke-width="0.6"/>
<line x1="691" y1="672" x2="691" y2="685" stroke="#c0c0c0" stroke-width="0.6"/>
<line x1="693" y1="672" x2="693" y2="685" stroke="#c0c0c0" stroke-width="0.6"/>
<ellipse cx="670.4" cy="664.5" rx="25.1" ry="11.5" fill="#fcfcfc" stroke="#555" stroke-width="1.2" />
<path d="M657,693 L683,691.5 L683,697 L657,698.5 Z" fill="#828282" stroke="none" stroke-width="1" />
<line x1="658" y1="702" x2="682" y2="701" stroke="#999" stroke-width="1"/>
<text x="398.75" y="493.4" font-size="13.7" font-weight="bold" fill="#1a1a1a" textLength="123.3" lengthAdjust="spacingAndGlyphs">Internal Assembly</text>
<text x="312.5" y="633" font-size="12" font-weight="bold" fill="#1a1a1a" textLength="41.3" lengthAdjust="spacingAndGlyphs">Grease</text>
<text x="448" y="633" font-size="12" font-weight="bold" fill="#1a1a1a" textLength="59.5" lengthAdjust="spacingAndGlyphs">TL-7S40-B</text>
<line x1="31.25" y1="345.7" x2="31.25" y2="383" stroke="#3c3c3c" stroke-width="1.4"/>
<circle cx="31.25" cy="336.8" r="8.4" fill="#fff" stroke="#5a5a5a" stroke-width="1.6"/>
<text x="31.25" y="342.15000000000003" text-anchor="middle" font-size="15" font-weight="bold" fill="#111" stroke="#111" stroke-width="0.35" textLength="6.2" lengthAdjust="spacingAndGlyphs">2</text>
<line x1="62.5" y1="345.7" x2="62.5" y2="371" stroke="#3c3c3c" stroke-width="1.4"/>
<circle cx="62.5" cy="336.8" r="8.4" fill="#fff" stroke="#5a5a5a" stroke-width="1.6"/>
<text x="62.5" y="342.15000000000003" text-anchor="middle" font-size="15" font-weight="bold" fill="#111" stroke="#111" stroke-width="0.35" textLength="6.2" lengthAdjust="spacingAndGlyphs">3</text>
<line x1="100.75" y1="345.7" x2="100.75" y2="381.5" stroke="#3c3c3c" stroke-width="1.4"/>
<circle cx="100.75" cy="336.8" r="8.4" fill="#fff" stroke="#5a5a5a" stroke-width="1.6"/>
<text x="100.75" y="342.15000000000003" text-anchor="middle" font-size="15" font-weight="bold" fill="#111" stroke="#111" stroke-width="0.35" textLength="6.2" lengthAdjust="spacingAndGlyphs">4</text>
<line x1="125.75" y1="345.7" x2="125.75" y2="377.8" stroke="#3c3c3c" stroke-width="1.4"/>
<circle cx="125.75" cy="336.8" r="8.4" fill="#fff" stroke="#5a5a5a" stroke-width="1.6"/>
<text x="125.75" y="342.15000000000003" text-anchor="middle" font-size="15" font-weight="bold" fill="#111" stroke="#111" stroke-width="0.35" textLength="6.2" lengthAdjust="spacingAndGlyphs">5</text>
<line x1="165.75" y1="345.7" x2="165.75" y2="362.5" stroke="#3c3c3c" stroke-width="1.4"/>
<circle cx="165.75" cy="336.8" r="8.4" fill="#fff" stroke="#5a5a5a" stroke-width="1.6"/>
<text x="165.75" y="342.15000000000003" text-anchor="middle" font-size="15" font-weight="bold" fill="#111" stroke="#111" stroke-width="0.35" textLength="6.2" lengthAdjust="spacingAndGlyphs">6</text>
<line x1="216.5" y1="345.7" x2="216.5" y2="357.2" stroke="#3c3c3c" stroke-width="1.4"/>
<circle cx="216.5" cy="336.8" r="8.4" fill="#fff" stroke="#5a5a5a" stroke-width="1.6"/>
<text x="216.5" y="342.15000000000003" text-anchor="middle" font-size="15" font-weight="bold" fill="#111" stroke="#111" stroke-width="0.35" textLength="6.2" lengthAdjust="spacingAndGlyphs">7</text>
<line x1="354.75" y1="345.7" x2="354.75" y2="361" stroke="#3c3c3c" stroke-width="1.4"/>
<circle cx="354.75" cy="336.8" r="8.4" fill="#fff" stroke="#5a5a5a" stroke-width="1.6"/>
<text x="354.75" y="342.15000000000003" text-anchor="middle" font-size="15" font-weight="bold" fill="#111" stroke="#111" stroke-width="0.35" textLength="6.2" lengthAdjust="spacingAndGlyphs">8</text>
<line x1="569" y1="345.7" x2="569" y2="377.5" stroke="#3c3c3c" stroke-width="1.4"/>
<circle cx="569" cy="336.8" r="8.4" fill="#fff" stroke="#5a5a5a" stroke-width="1.6"/>
<text x="569" y="342.15000000000003" text-anchor="middle" font-size="15" font-weight="bold" fill="#111" stroke="#111" stroke-width="0.35" textLength="6.2" lengthAdjust="spacingAndGlyphs">9</text>
<line x1="654" y1="345.7" x2="654" y2="377" stroke="#3c3c3c" stroke-width="1.4"/>
<circle cx="654" cy="336.8" r="8.4" fill="#fff" stroke="#5a5a5a" stroke-width="1.6"/>
<text x="654" y="342.15000000000003" text-anchor="middle" font-size="15" font-weight="bold" fill="#111" stroke="#111" stroke-width="0.35" textLength="10.9" lengthAdjust="spacingAndGlyphs">10</text>
<line x1="687.5" y1="345.7" x2="687.5" y2="373.5" stroke="#3c3c3c" stroke-width="1.4"/>
<circle cx="687.5" cy="336.8" r="8.4" fill="#fff" stroke="#5a5a5a" stroke-width="1.6"/>
<text x="687.5" y="342.15000000000003" text-anchor="middle" font-size="15" font-weight="bold" fill="#111" stroke="#111" stroke-width="0.35" textLength="10.9" lengthAdjust="spacingAndGlyphs">11</text>
<line x1="715" y1="345.7" x2="715" y2="378.5" stroke="#3c3c3c" stroke-width="1.4"/>
<circle cx="715" cy="336.8" r="8.4" fill="#fff" stroke="#5a5a5a" stroke-width="1.6"/>
<text x="715" y="342.15000000000003" text-anchor="middle" font-size="15" font-weight="bold" fill="#111" stroke="#111" stroke-width="0.35" textLength="10.9" lengthAdjust="spacingAndGlyphs">12</text>
<line x1="756.5" y1="345.7" x2="756.5" y2="361.5" stroke="#3c3c3c" stroke-width="1.4"/>
<circle cx="756.5" cy="336.8" r="8.4" fill="#fff" stroke="#5a5a5a" stroke-width="1.6"/>
<text x="756.5" y="342.15000000000003" text-anchor="middle" font-size="15" font-weight="bold" fill="#111" stroke="#111" stroke-width="0.35" textLength="10.9" lengthAdjust="spacingAndGlyphs">13</text>
<line x1="804.25" y1="345.7" x2="804.25" y2="377.8" stroke="#3c3c3c" stroke-width="1.4"/>
<circle cx="804.25" cy="336.8" r="8.4" fill="#fff" stroke="#5a5a5a" stroke-width="1.6"/>
<text x="804.25" y="342.15000000000003" text-anchor="middle" font-size="15" font-weight="bold" fill="#111" stroke="#111" stroke-width="0.35" textLength="10.9" lengthAdjust="spacingAndGlyphs">14</text>
<line x1="945.5" y1="345.7" x2="945.5" y2="381.25" stroke="#3c3c3c" stroke-width="1.4"/>
<circle cx="945.5" cy="336.8" r="8.4" fill="#fff" stroke="#5a5a5a" stroke-width="1.6"/>
<text x="945.5" y="342.15000000000003" text-anchor="middle" font-size="15" font-weight="bold" fill="#111" stroke="#111" stroke-width="0.35" textLength="10.9" lengthAdjust="spacingAndGlyphs">19</text>
<line x1="968.5" y1="345.7" x2="968.5" y2="382.5" stroke="#3c3c3c" stroke-width="1.4"/>
<circle cx="968.5" cy="336.8" r="8.4" fill="#fff" stroke="#5a5a5a" stroke-width="1.6"/>
<text x="968.5" y="342.15000000000003" text-anchor="middle" font-size="15" font-weight="bold" fill="#111" stroke="#111" stroke-width="0.35" textLength="10.9" lengthAdjust="spacingAndGlyphs">20</text>
<line x1="990.5" y1="345.7" x2="990.5" y2="383" stroke="#3c3c3c" stroke-width="1.4"/>
<circle cx="990.5" cy="336.8" r="8.4" fill="#fff" stroke="#5a5a5a" stroke-width="1.6"/>
<text x="990.5" y="342.15000000000003" text-anchor="middle" font-size="15" font-weight="bold" fill="#111" stroke="#111" stroke-width="0.35" textLength="10.9" lengthAdjust="spacingAndGlyphs">21</text>
<line x1="216.5" y1="294.6" x2="216.5" y2="305" stroke="#3c3c3c" stroke-width="1.4"/>
<circle cx="216.5" cy="285.75" r="8.4" fill="#fff" stroke="#5a5a5a" stroke-width="1.6"/>
<text x="216.5" y="291.1" text-anchor="middle" font-size="15" font-weight="bold" fill="#111" stroke="#111" stroke-width="0.35" textLength="6.2" lengthAdjust="spacingAndGlyphs">1</text>
<line x1="725.75" y1="294.6" x2="725.75" y2="305" stroke="#3c3c3c" stroke-width="1.4"/>
<circle cx="725.75" cy="285.75" r="8.4" fill="#fff" stroke="#5a5a5a" stroke-width="1.6"/>
<text x="725.75" y="291.1" text-anchor="middle" font-size="15" font-weight="bold" fill="#111" stroke="#111" stroke-width="0.35" textLength="6.2" lengthAdjust="spacingAndGlyphs">8</text>
<polyline points="829.5,381 829.5,339.4 855,339.4 855,349" fill="none" stroke="#3c3c3c" stroke-width="1.4"/>
<line x1="842" y1="329.5" x2="842" y2="339.4" stroke="#3c3c3c" stroke-width="1.4"/>
<circle cx="842" cy="320.6" r="8.4" fill="#fff" stroke="#5a5a5a" stroke-width="1.6"/>
<text x="842" y="325.95000000000005" text-anchor="middle" font-size="15" font-weight="bold" fill="#111" stroke="#111" stroke-width="0.35" textLength="10.9" lengthAdjust="spacingAndGlyphs">15</text>
<line x1="855" y1="367" x2="855" y2="377" stroke="#3c3c3c" stroke-width="1.4"/>
<circle cx="855" cy="358" r="8.4" fill="#fff" stroke="#5a5a5a" stroke-width="1.6"/>
<text x="855" y="363.35" text-anchor="middle" font-size="15" font-weight="bold" fill="#111" stroke="#111" stroke-width="0.35" textLength="10.9" lengthAdjust="spacingAndGlyphs">16</text>
<polyline points="878,349 878,339.4 923.5,339.4 923.5,349" fill="none" stroke="#3c3c3c" stroke-width="1.4"/>
<line x1="898.6" y1="329.5" x2="898.6" y2="339.4" stroke="#3c3c3c" stroke-width="1.4"/>
<line x1="901" y1="339.4" x2="901" y2="380" stroke="#3c3c3c" stroke-width="1.4"/>
<circle cx="898.6" cy="320.6" r="8.4" fill="#fff" stroke="#5a5a5a" stroke-width="1.6"/>
<text x="898.6" y="325.95000000000005" text-anchor="middle" font-size="15" font-weight="bold" fill="#111" stroke="#111" stroke-width="0.35" textLength="10.9" lengthAdjust="spacingAndGlyphs">17</text>
<line x1="878" y1="367" x2="878" y2="382" stroke="#3c3c3c" stroke-width="1.4"/>
<circle cx="878" cy="358" r="8.4" fill="#fff" stroke="#5a5a5a" stroke-width="1.6"/>
<text x="878" y="363.35" text-anchor="middle" font-size="15" font-weight="bold" fill="#111" stroke="#111" stroke-width="0.35" textLength="10.9" lengthAdjust="spacingAndGlyphs">18</text>
<line x1="923.5" y1="367" x2="923.5" y2="382" stroke="#3c3c3c" stroke-width="1.4"/>
<circle cx="923.5" cy="358" r="8.4" fill="#fff" stroke="#5a5a5a" stroke-width="1.6"/>
<text x="923.5" y="363.35" text-anchor="middle" font-size="15" font-weight="bold" fill="#111" stroke="#111" stroke-width="0.35" textLength="10.9" lengthAdjust="spacingAndGlyphs">18</text>
<line x1="100" y1="484.9" x2="100" y2="528" stroke="#3c3c3c" stroke-width="1.4"/>
<circle cx="100" cy="476" r="8.4" fill="#fff" stroke="#5a5a5a" stroke-width="1.6"/>
<text x="100" y="481.35" text-anchor="middle" font-size="15" font-weight="bold" fill="#111" stroke="#111" stroke-width="0.35" textLength="10.9" lengthAdjust="spacingAndGlyphs">29</text>
<line x1="125.5" y1="484.9" x2="125.5" y2="524.2" stroke="#3c3c3c" stroke-width="1.4"/>
<circle cx="125.5" cy="476" r="8.4" fill="#fff" stroke="#5a5a5a" stroke-width="1.6"/>
<text x="125.5" y="481.35" text-anchor="middle" font-size="15" font-weight="bold" fill="#111" stroke="#111" stroke-width="0.35" textLength="10.9" lengthAdjust="spacingAndGlyphs">30</text>
<line x1="155.5" y1="484.9" x2="155.5" y2="528.8" stroke="#3c3c3c" stroke-width="1.4"/>
<circle cx="155.5" cy="476" r="8.4" fill="#fff" stroke="#5a5a5a" stroke-width="1.6"/>
<text x="155.5" y="481.35" text-anchor="middle" font-size="15" font-weight="bold" fill="#111" stroke="#111" stroke-width="0.35" textLength="10.9" lengthAdjust="spacingAndGlyphs">22</text>
<line x1="180" y1="484.9" x2="180" y2="528" stroke="#3c3c3c" stroke-width="1.4"/>
<circle cx="180" cy="476" r="8.4" fill="#fff" stroke="#5a5a5a" stroke-width="1.6"/>
<text x="180" y="481.35" text-anchor="middle" font-size="15" font-weight="bold" fill="#111" stroke="#111" stroke-width="0.35" textLength="10.9" lengthAdjust="spacingAndGlyphs">23</text>
<line x1="205" y1="484.9" x2="205" y2="523" stroke="#3c3c3c" stroke-width="1.4"/>
<circle cx="205" cy="476" r="8.4" fill="#fff" stroke="#5a5a5a" stroke-width="1.6"/>
<text x="205" y="481.35" text-anchor="middle" font-size="15" font-weight="bold" fill="#111" stroke="#111" stroke-width="0.35" textLength="10.9" lengthAdjust="spacingAndGlyphs">24</text>
<line x1="232" y1="484.9" x2="232" y2="524" stroke="#3c3c3c" stroke-width="1.4"/>
<circle cx="232" cy="476" r="8.4" fill="#fff" stroke="#5a5a5a" stroke-width="1.6"/>
<text x="232" y="481.35" text-anchor="middle" font-size="15" font-weight="bold" fill="#111" stroke="#111" stroke-width="0.35" textLength="10.9" lengthAdjust="spacingAndGlyphs">25</text>
<line x1="591.25" y1="484.9" x2="591.25" y2="498.9" stroke="#3c3c3c" stroke-width="1.4"/>
<circle cx="591.25" cy="476" r="8.4" fill="#fff" stroke="#5a5a5a" stroke-width="1.6"/>
<text x="591.25" y="481.35" text-anchor="middle" font-size="15" font-weight="bold" fill="#111" stroke="#111" stroke-width="0.35" textLength="10.9" lengthAdjust="spacingAndGlyphs">26</text>
<line x1="640.75" y1="484.9" x2="640.75" y2="507.8" stroke="#3c3c3c" stroke-width="1.4"/>
<circle cx="640.75" cy="476" r="8.4" fill="#fff" stroke="#5a5a5a" stroke-width="1.6"/>
<text x="640.75" y="481.35" text-anchor="middle" font-size="15" font-weight="bold" fill="#111" stroke="#111" stroke-width="0.35" textLength="10.9" lengthAdjust="spacingAndGlyphs">27</text>
<line x1="685" y1="484.9" x2="685" y2="502" stroke="#3c3c3c" stroke-width="1.4"/>
<circle cx="685" cy="476" r="8.4" fill="#fff" stroke="#5a5a5a" stroke-width="1.6"/>
<text x="685" y="481.35" text-anchor="middle" font-size="15" font-weight="bold" fill="#111" stroke="#111" stroke-width="0.35" textLength="10.9" lengthAdjust="spacingAndGlyphs">31</text>
<line x1="726.25" y1="484.9" x2="726.25" y2="519.5" stroke="#3c3c3c" stroke-width="1.4"/>
<circle cx="726.25" cy="476" r="8.4" fill="#fff" stroke="#5a5a5a" stroke-width="1.6"/>
<text x="726.25" y="481.35" text-anchor="middle" font-size="15" font-weight="bold" fill="#111" stroke="#111" stroke-width="0.35" textLength="10.9" lengthAdjust="spacingAndGlyphs">32</text>
<line x1="763.75" y1="484.9" x2="763.75" y2="517" stroke="#3c3c3c" stroke-width="1.4"/>
<circle cx="763.75" cy="476" r="8.4" fill="#fff" stroke="#5a5a5a" stroke-width="1.6"/>
<text x="763.75" y="481.35" text-anchor="middle" font-size="15" font-weight="bold" fill="#111" stroke="#111" stroke-width="0.35" textLength="10.9" lengthAdjust="spacingAndGlyphs">33</text>
<line x1="818.75" y1="484.9" x2="818.75" y2="514.4" stroke="#3c3c3c" stroke-width="1.4"/>
<circle cx="818.75" cy="476" r="8.4" fill="#fff" stroke="#5a5a5a" stroke-width="1.6"/>
<text x="818.75" y="481.35" text-anchor="middle" font-size="15" font-weight="bold" fill="#111" stroke="#111" stroke-width="0.35" textLength="10.9" lengthAdjust="spacingAndGlyphs">34</text>
<line x1="870.5" y1="484.9" x2="870.5" y2="522" stroke="#3c3c3c" stroke-width="1.4"/>
<circle cx="870.5" cy="476" r="8.4" fill="#fff" stroke="#5a5a5a" stroke-width="1.6"/>
<text x="870.5" y="481.35" text-anchor="middle" font-size="15" font-weight="bold" fill="#111" stroke="#111" stroke-width="0.35" textLength="10.9" lengthAdjust="spacingAndGlyphs">35</text>
<line x1="899.25" y1="484.9" x2="899.25" y2="524.5" stroke="#3c3c3c" stroke-width="1.4"/>
<circle cx="899.25" cy="476" r="8.4" fill="#fff" stroke="#5a5a5a" stroke-width="1.6"/>
<text x="899.25" y="481.35" text-anchor="middle" font-size="15" font-weight="bold" fill="#111" stroke="#111" stroke-width="0.35" textLength="10.9" lengthAdjust="spacingAndGlyphs">36</text>
<line x1="927.25" y1="484.9" x2="927.25" y2="527" stroke="#3c3c3c" stroke-width="1.4"/>
<circle cx="927.25" cy="476" r="8.4" fill="#fff" stroke="#5a5a5a" stroke-width="1.6"/>
<text x="927.25" y="481.35" text-anchor="middle" font-size="15" font-weight="bold" fill="#111" stroke="#111" stroke-width="0.35" textLength="10.9" lengthAdjust="spacingAndGlyphs">29</text>
<line x1="960" y1="484.9" x2="960" y2="528" stroke="#3c3c3c" stroke-width="1.4"/>
<circle cx="960" cy="476" r="8.4" fill="#fff" stroke="#5a5a5a" stroke-width="1.6"/>
<text x="960" y="481.35" text-anchor="middle" font-size="15" font-weight="bold" fill="#111" stroke="#111" stroke-width="0.35" textLength="10.9" lengthAdjust="spacingAndGlyphs">30</text>
<line x1="66.25" y1="486.2" x2="66.25" y2="528.8" stroke="#3c3c3c" stroke-width="1.4"/>
<circle cx="66.25" cy="477.3" r="8.4" fill="#fff" stroke="#5a5a5a" stroke-width="1.6"/>
<text x="66.25" y="482.65000000000003" text-anchor="middle" font-size="15" font-weight="bold" fill="#111" stroke="#111" stroke-width="0.35" textLength="10.9" lengthAdjust="spacingAndGlyphs">28</text>
<line x1="457.5" y1="461.6" x2="457.5" y2="468.75" stroke="#3c3c3c" stroke-width="1.4"/>
<circle cx="457.5" cy="452.75" r="8.4" fill="#fff" stroke="#5a5a5a" stroke-width="1.6"/>
<text x="457.5" y="458.1" text-anchor="middle" font-size="15" font-weight="bold" fill="#111" stroke="#111" stroke-width="0.35" textLength="6.2" lengthAdjust="spacingAndGlyphs">1</text>
<line x1="630.9" y1="606.9" x2="630.9" y2="615" stroke="#3c3c3c" stroke-width="1.4"/>
<circle cx="630.9" cy="598" r="8.4" fill="#fff" stroke="#5a5a5a" stroke-width="1.6"/>
<text x="630.9" y="603.35" text-anchor="middle" font-size="15" font-weight="bold" fill="#111" stroke="#111" stroke-width="0.35" textLength="10.9" lengthAdjust="spacingAndGlyphs">40</text>
<line x1="336" y1="657.6" x2="336" y2="667.5" stroke="#3c3c3c" stroke-width="1.4"/>
<circle cx="336" cy="648.75" r="8.4" fill="#fff" stroke="#5a5a5a" stroke-width="1.6"/>
<text x="336" y="654.1" text-anchor="middle" font-size="15" font-weight="bold" fill="#111" stroke="#111" stroke-width="0.35" textLength="10.9" lengthAdjust="spacingAndGlyphs">38</text>
<line x1="477.75" y1="658.4" x2="477.75" y2="670" stroke="#3c3c3c" stroke-width="1.4"/>
<circle cx="477.75" cy="649.5" r="8.4" fill="#fff" stroke="#5a5a5a" stroke-width="1.6"/>
<text x="477.75" y="654.85" text-anchor="middle" font-size="15" font-weight="bold" fill="#111" stroke="#111" stroke-width="0.35" textLength="10.9" lengthAdjust="spacingAndGlyphs">39</text>
<line x1="592" y1="640.1" x2="592" y2="650" stroke="#3c3c3c" stroke-width="1.4"/>
<circle cx="592" cy="631.25" r="8.4" fill="#fff" stroke="#5a5a5a" stroke-width="1.6"/>
<text x="592" y="636.6" text-anchor="middle" font-size="15" font-weight="bold" fill="#111" stroke="#111" stroke-width="0.35" textLength="10.9" lengthAdjust="spacingAndGlyphs">41</text>
<line x1="670.2" y1="640.1" x2="670.2" y2="655" stroke="#3c3c3c" stroke-width="1.4"/>
<circle cx="670.2" cy="631.25" r="8.4" fill="#fff" stroke="#5a5a5a" stroke-width="1.6"/>
<text x="670.2" y="636.6" text-anchor="middle" font-size="15" font-weight="bold" fill="#111" stroke="#111" stroke-width="0.35" textLength="10.9" lengthAdjust="spacingAndGlyphs">42</text>
<polyline points="828.6,579.5 828.6,596.5 874.8,596.5 874.8,579.5" fill="none" stroke="#3c3c3c" stroke-width="1.4"/>
<line x1="849.6" y1="579" x2="849.6" y2="596.5" stroke="#3c3c3c" stroke-width="1.4"/>
<line x1="852.6" y1="596.5" x2="852.6" y2="608.1" stroke="#3c3c3c" stroke-width="1.4"/>
<circle cx="852.5" cy="617" r="8.4" fill="#fff" stroke="#5a5a5a" stroke-width="1.6"/>
<text x="852.5" y="622.35" text-anchor="middle" font-size="15" font-weight="bold" fill="#111" stroke="#111" stroke-width="0.35" textLength="10.9" lengthAdjust="spacingAndGlyphs">37</text>
</svg></body></html>
